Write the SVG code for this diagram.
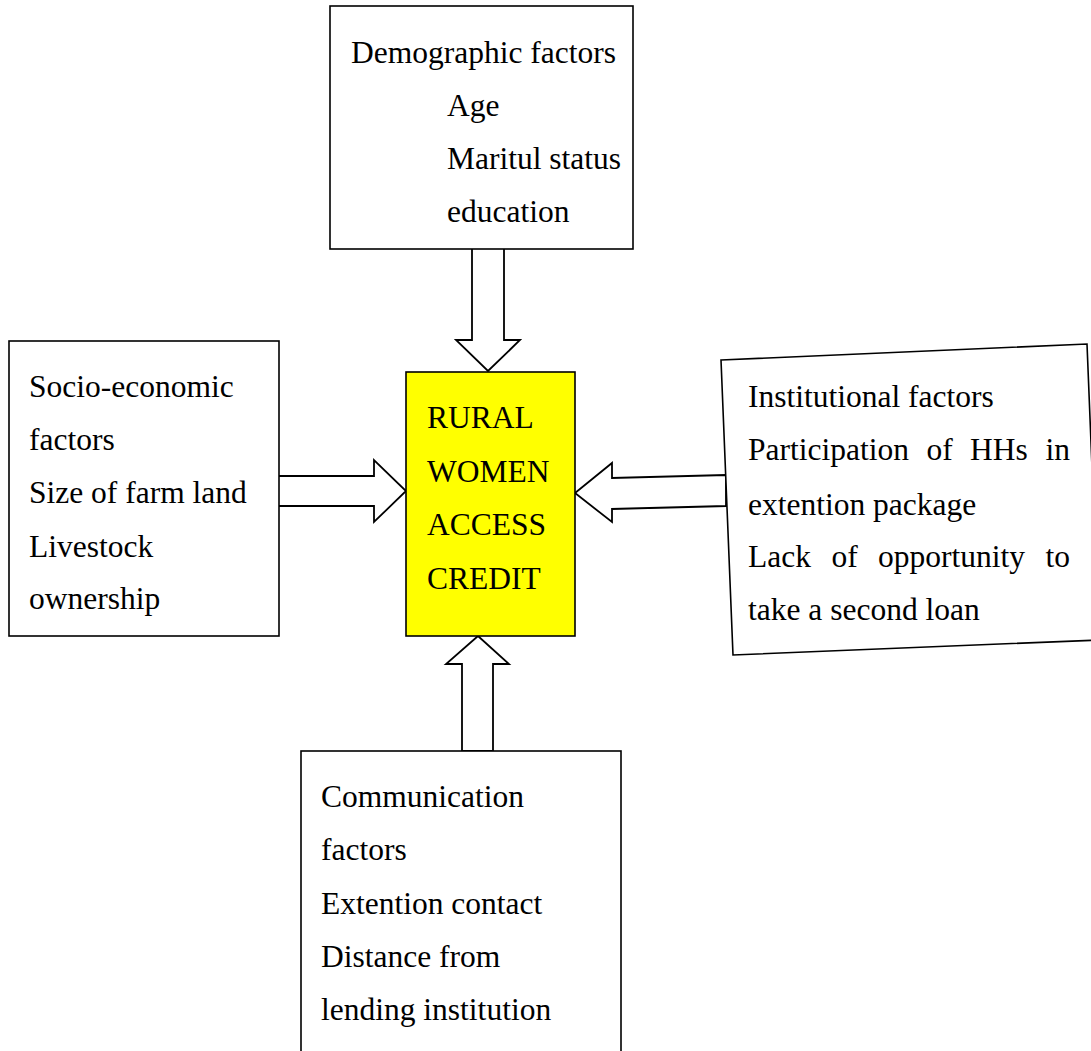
<svg xmlns="http://www.w3.org/2000/svg" width="1091" height="1051" viewBox="0 0 1091 1051">
<style>
.box{fill:#fff;stroke:#000;stroke-width:1.6}
.core{fill:#ffff00;stroke:#000;stroke-width:1.6}
.arr{fill:#fff;stroke:#000;stroke-width:1.8;stroke-linejoin:miter}
text{font-family:"Liberation Serif","Times New Roman",serif;font-size:31.5px;fill:#000}
</style>
<rect width="1091" height="1051" fill="#fff"/>
<g id="connectors">
<polygon class="arr" points="472,248 504,248 504,340 520,340 488,371 456,340 472,340"/>
<polygon class="arr" points="278,476 374,476 374,460 406,491 374,522 374,506 278,506"/>
<polygon class="arr" points="726,475 612,478 612,463 575,493 612,522 612,509 726,506"/>
<polygon class="arr" points="462,751 462,664 446,664 478,636 509,664 493,664 493,751"/>
</g>
<g id="demographic">
<rect class="box" x="330" y="6" width="303" height="243"/>
<text x="351" y="63">Demographic factors</text>
<text x="447" y="116">Age</text>
<text x="447" y="169">Maritul status</text>
<text x="447" y="222">education</text>
</g>
<g id="socio">
<rect class="box" x="9" y="341" width="270" height="295"/>
<text x="29" y="397">Socio-economic</text>
<text x="29" y="450">factors</text>
<text x="29" y="503">Size of farm land</text>
<text x="29" y="557">Livestock</text>
<text x="29" y="609">ownership</text>
</g>
<g id="center">
<rect class="core" x="406" y="372" width="169" height="264"/>
<text x="427" y="428">RURAL</text>
<text x="427" y="482">WOMEN</text>
<text x="427" y="535">ACCESS</text>
<text x="427" y="589">CREDIT</text>
</g>
<g id="institutional">
<polygon class="box" points="721,360 1087,344 1099,640 733,655"/>
<text x="748" y="407">Institutional factors</text>
<text x="748" y="460">Participation</text>
<text x="926.5" y="460">of</text>
<text x="970" y="460">HHs</text>
<text x="1070" y="460" text-anchor="end">in</text>
<text x="748" y="515">extention package</text>
<text x="748" y="567">Lack</text>
<text x="831.5" y="567">of</text>
<text x="878" y="567">opportunity</text>
<text x="1070" y="567" text-anchor="end">to</text>
<text x="748" y="620">take a second loan</text>
</g>
<g id="communication">
<rect class="box" x="301" y="751" width="320" height="310"/>
<text x="321" y="807">Communication</text>
<text x="321" y="860">factors</text>
<text x="321" y="914">Extention contact</text>
<text x="321" y="967">Distance from</text>
<text x="321" y="1020">lending institution</text>
</g>
</svg>
